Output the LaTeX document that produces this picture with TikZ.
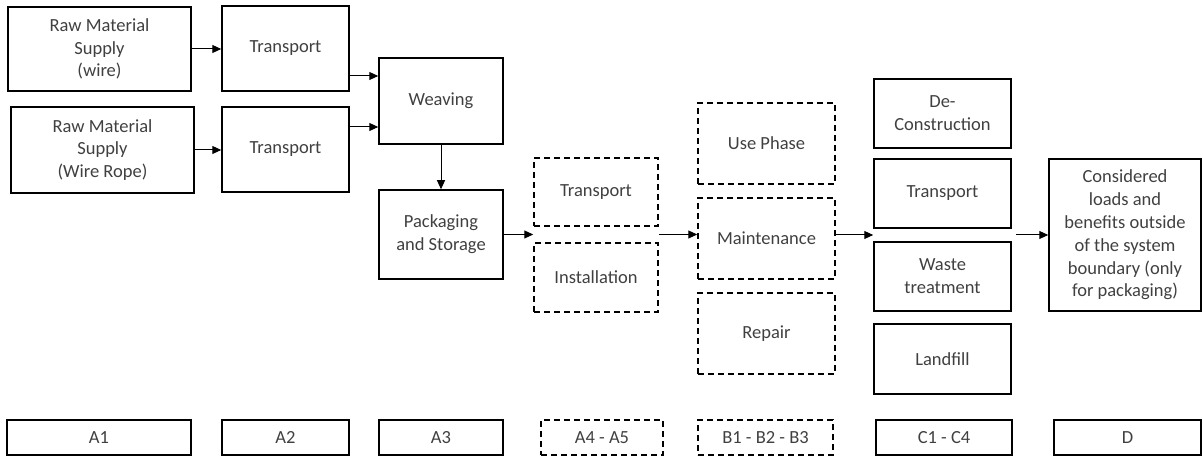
\documentclass[tikz,border=0pt]{standalone}
\usepackage{fontspec}
\setmainfont{Carlito}
\usepackage{xcolor}
\usepackage{tikz}
\usetikzlibrary{arrows.meta,calc}
\definecolor{textoCinza}{HTML}{404040}
\tikzset{
    bloco/.style={
        rectangle,
        draw,
        line width=1.5pt,
        align=center,
        inner sep=0pt,
        text=textoCinza,
        font=\fontsize{18.5}{22.8}\selectfont
    },
    blocoTracejado/.style={bloco, dash pattern=on 6pt off 4pt},
    fluxo/.style={-{Triangle[length=9pt,width=8pt]}, line width=1pt}
}

\begin{document}
\begin{tikzpicture}[x=1pt,y=1pt]

        \useasboundingbox (0,0) rectangle (1203,457);

        % A1 - A3
        \node[bloco, minimum width=183pt, minimum height=84pt] (rmw) at (99.5,408)
        {Raw Material\\Supply\\(wire)};

        \node[bloco, minimum width=183pt, minimum height=86pt] (rmr) at (102.5,307)
        {Raw Material\\Supply\\(Wire Rope)};

        \node[bloco, minimum width=127pt, minimum height=85pt] (trA) at (285.5,408.5)
        {Transport};

        \node[bloco, minimum width=127pt, minimum height=85pt] (trB) at (285.5,307.5)
        {Transport};

        \node[bloco, minimum width=124pt, minimum height=86pt] (weav) at (441,356)
        {Weaving};

        \node[bloco, minimum width=124pt, minimum height=89pt] (pack) at (441,222.5)
        {Packaging\\and Storage};

        % A4 - A5
        \node[blocoTracejado, minimum width=124pt, minimum height=68pt] (trC) at (596,265)
        {Transport};

        \node[blocoTracejado, minimum width=124pt, minimum height=69pt] (inst) at (596,179.5)
        {Installation};

        % B1 - B3
        \node[blocoTracejado, minimum width=137pt, minimum height=81pt] (use) at (766.5,313.5)
        {Use Phase};

        \node[blocoTracejado, minimum width=137pt, minimum height=81pt] (maint) at (766.5,218.5)
        {Maintenance};

        \node[blocoTracejado, minimum width=137pt, minimum height=81pt] (rep) at (766.5,123.5)
        {Repair};

        % C1 - C4
        \node[bloco, minimum width=137pt, minimum height=69pt] (decon) at (942.5,343.5)
        {De-\\Construction};

        \node[bloco, minimum width=137pt, minimum height=69pt] (trD) at (942.5,263.5)
        {Transport};

        \node[bloco, minimum width=137pt, minimum height=69pt] (waste) at (942.5,180.5)
        {Waste\\treatment};

        \node[bloco, minimum width=137pt, minimum height=70pt] (land) at (942.5,98)
        {Landfill};

        % D
        \node[bloco, minimum width=152pt, minimum height=152pt] (cons) at (1125,222)
        {Considered\\loads and\\benefits outside\\of the system\\boundary (only\\for packaging)};

        % fases
        \node[bloco, minimum width=184pt, minimum height=35pt] (fA1) at (99,19.5) {A1};
        \node[bloco, minimum width=127pt, minimum height=35pt] (fA2) at (285.5,19.5) {A2};
        \node[bloco, minimum width=124pt, minimum height=35pt] (fA3) at (441,19.5) {A3};
        \node[blocoTracejado, minimum width=122pt, minimum height=35pt] (fA4) at (602,19.5) {A4 - A5};
        \node[blocoTracejado, minimum width=135pt, minimum height=35pt] (fB) at (765.5,19.5) {B1 - B2 - B3};
        \node[bloco, minimum width=136pt, minimum height=35pt] (fC) at (944,19.5) {C1 - C4};
        \node[bloco, minimum width=147pt, minimum height=35pt] (fD) at (1127.5,19.5) {D};

        \coordinate (wA) at ($(weav.west)+(0,25)$);
        \coordinate (wB) at ($(weav.west)+(0,-26)$);
        \coordinate (a4in) at ($(trC.south west)!0.5!(inst.north west)$);
        \coordinate (a4out) at ($(trC.south east)!0.5!(inst.north east)$);
        \coordinate (cin) at ($(trD.south west)!0.5!(waste.north west)$);
        \coordinate (cout) at ($(trD.south east)!0.5!(waste.north east)+(4,0)$);

        \draw[fluxo] (rmw.east) -- (rmw.east -| trA.west);
        \draw[fluxo] (rmr.east) -- (rmr.east -| trB.west);

        \draw[fluxo] (trA.east |- wA) -- (wA);
        \draw[fluxo] (trB.east |- wB) -- (wB);

        \draw[fluxo] (weav) -- (pack);
        \draw[fluxo] (pack) -- (a4in);
        \draw[fluxo] (a4out) -- (a4out -| maint.west);
        \draw[fluxo] (maint.east |- cin) -- (cin);
        \draw[fluxo] (cout) -- (cout -| cons.west);

    \end{tikzpicture}
\end{document}
